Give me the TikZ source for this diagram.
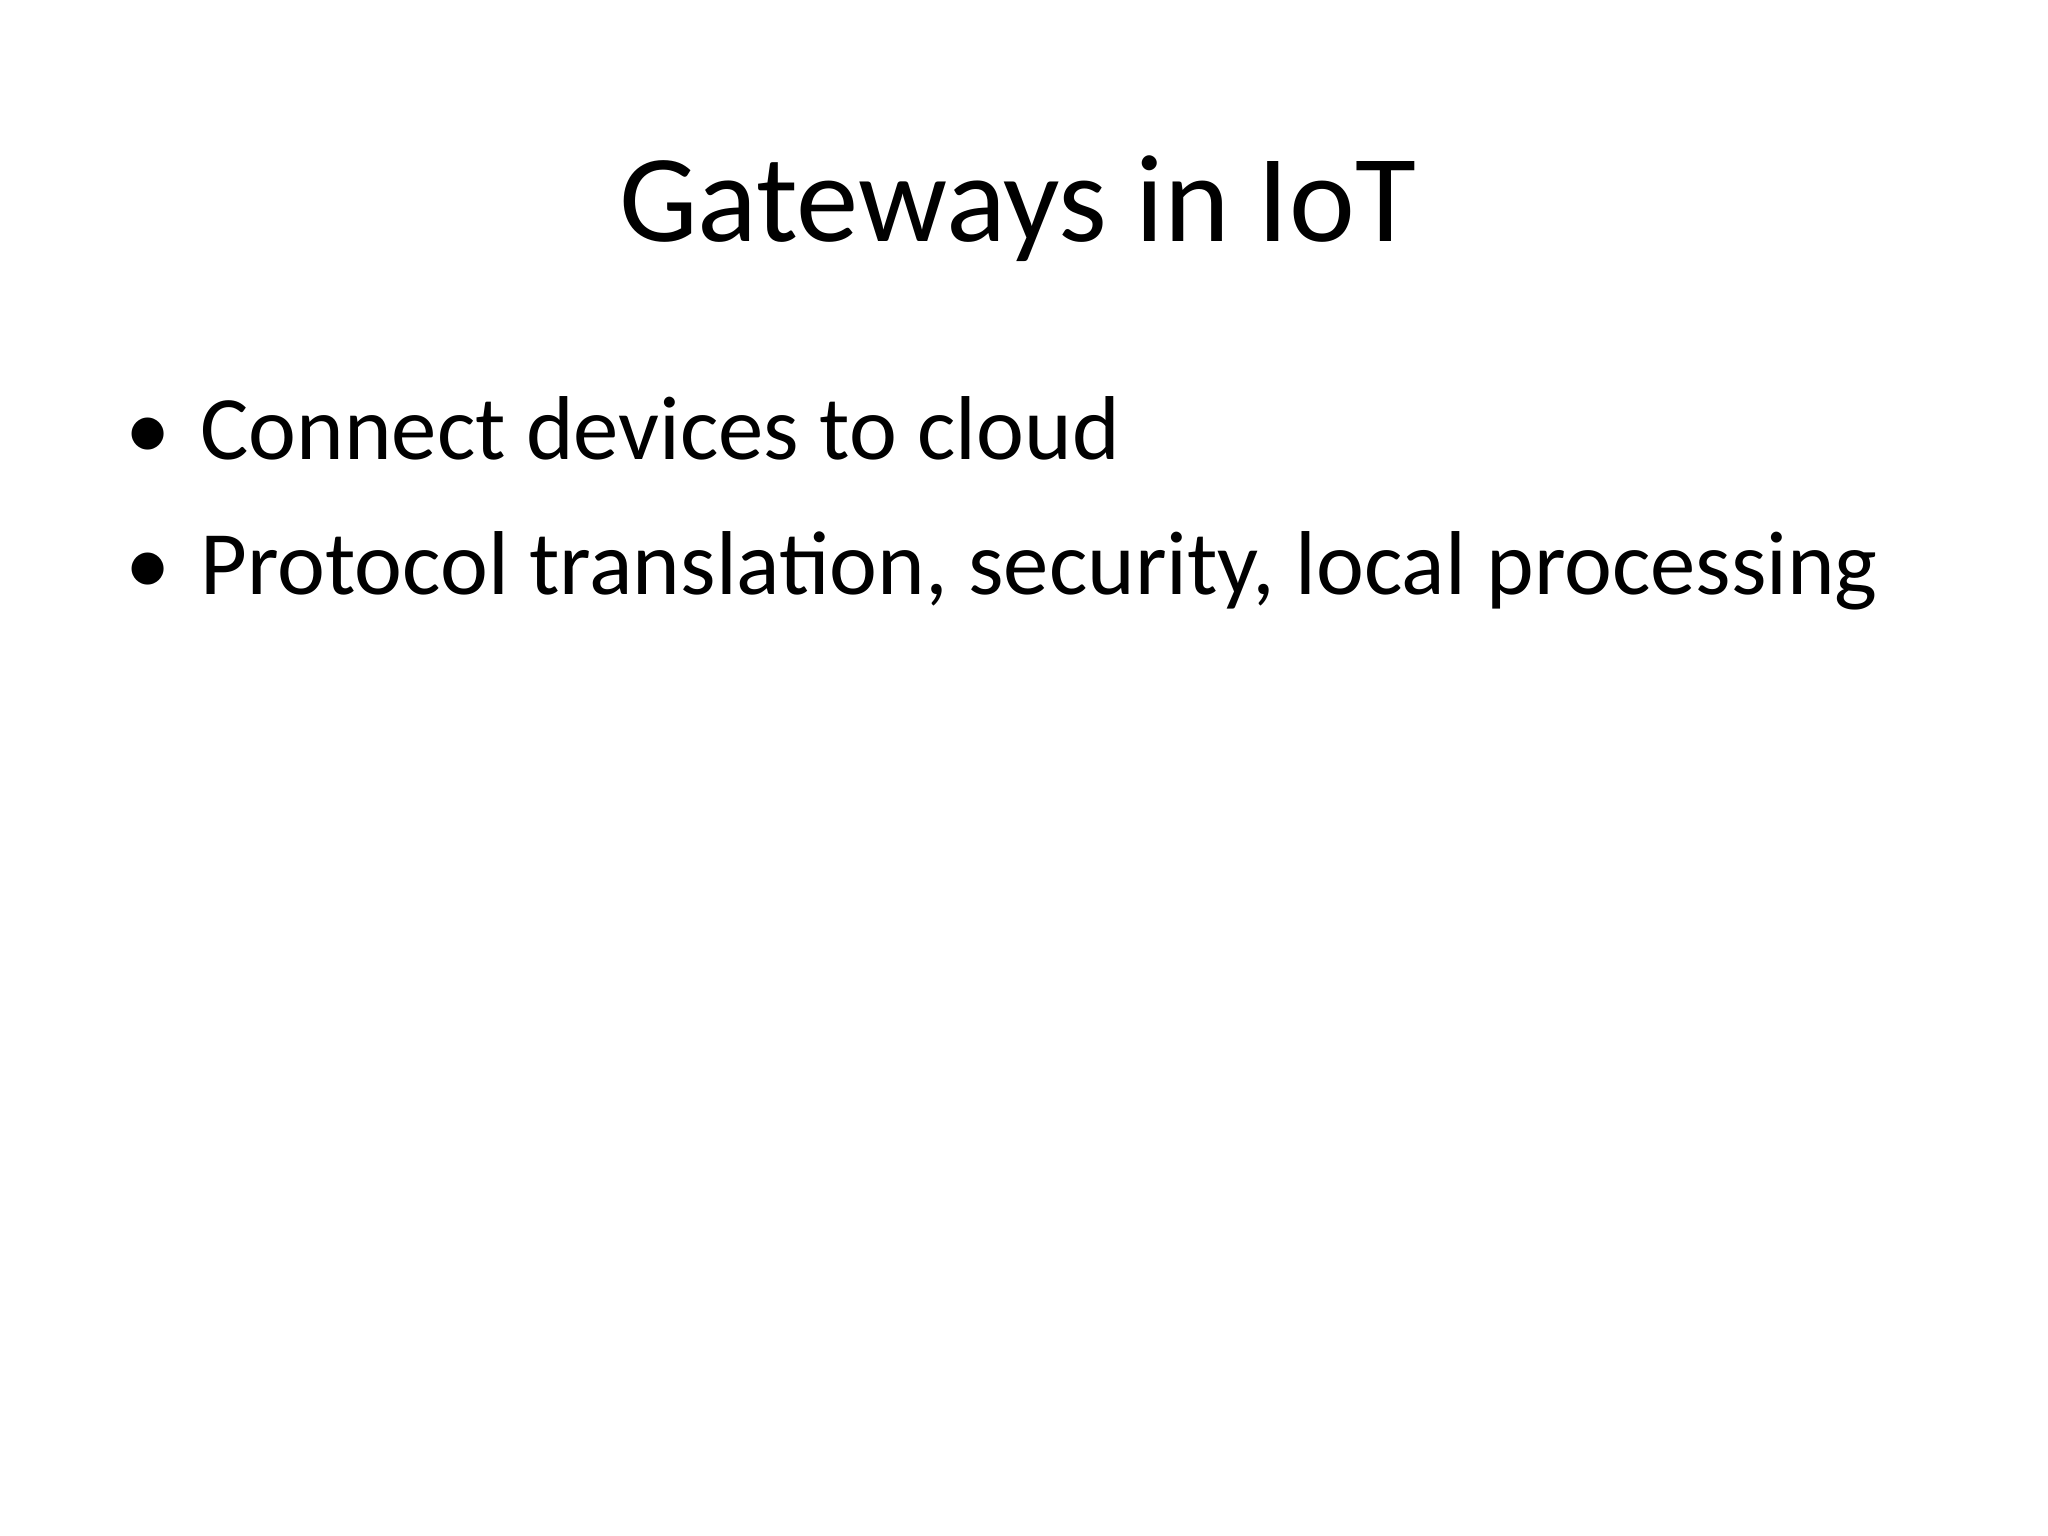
\documentclass[tikz,border=0pt]{standalone}
\usepackage{fontspec}
\setmainfont{Carlito}
\begin{document}
\begin{tikzpicture}
\useasboundingbox (0,0) rectangle (25.4,19.05);
\tikzset{title/.style={inner sep=0pt,font=\fontsize{44}{52}\selectfont},
 item/.style={inner sep=0pt,anchor=base west,font=\fontsize{32}{38}\selectfont}}
\node[title,anchor=base] (t) at (12.62,16.05) {Gateways in IoT};
\node[item] (b1) at (1.55,13.35) {•};
\node[item] (i1) at (2.48,13.35) {Connect devices to cloud};
\node[item] (b2) at (1.55,11.68) {•};
\node[item] (i2) at (2.48,11.68) {Protocol translation, security, local processing};
\end{tikzpicture}
\end{document}
